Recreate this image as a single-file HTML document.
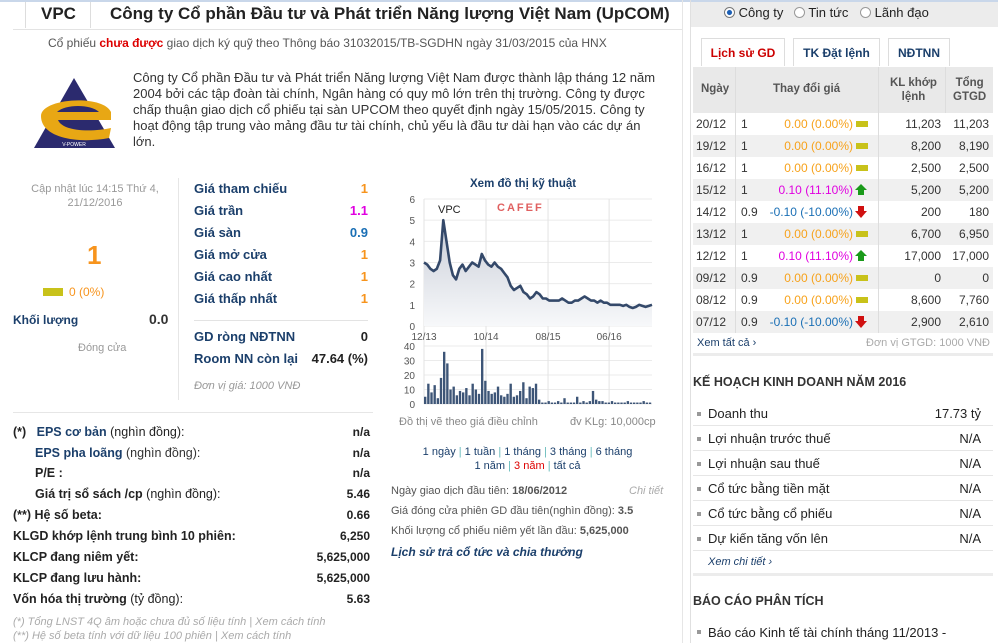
<!DOCTYPE html>
<html><head><meta charset="utf-8">
<style>
*{margin:0;padding:0;box-sizing:border-box}
body{width:998px;height:643px;overflow:hidden;background:#fff;font-family:"Liberation Sans","Noto Sans CJK SC",sans-serif;font-size:12px;color:#333;position:relative}
.a{position:absolute;white-space:nowrap}
.lbl{font-weight:bold;color:#1b3f6b;font-size:13px}
.val{font-weight:bold;font-size:13px;text-align:right}
.b{font-weight:bold;color:#222}
.rrow{position:absolute;left:693px;width:300px;height:22px;line-height:22px;font-size:12px}
.rrow span{position:absolute}
.kh{position:absolute;left:693px;width:300px;height:25px;line-height:25px;border-bottom:1px solid #e6e6e6;font-size:13px;color:#222}
.kh i{position:absolute;left:4px;top:11px;width:4px;height:4px;background:#999}
.kh .n{position:absolute;left:15px}.kh .v{position:absolute;right:12px}
</style></head><body>
<div class="a" style="left:0;top:0;width:690px;height:2px;background:#c9d7ea"></div>
<div class="a" style="left:25px;top:2px;width:1px;height:26px;background:#ddd"></div>
<div class="a" style="left:90px;top:2px;width:1px;height:26px;background:#ddd"></div>
<div class="a" style="left:41px;top:4px;font-size:17px;font-weight:bold;color:#222">VPC</div>
<div class="a" style="left:110px;top:4px;font-size:17px;font-weight:bold;color:#222">Công ty Cổ phần Đầu tư và Phát triển Năng lượng Việt Nam (UpCOM)</div>
<div class="a" style="left:13px;top:29px;width:670px;height:1px;background:#e3e3e3"></div>
<div class="a" style="left:48px;top:36px;color:#555">Cổ phiếu <b style="color:#d00">chưa được</b> giao dịch ký quỹ theo Thông báo 31032015/TB-SGDHN ngày 31/03/2015 của HNX</div>
<svg class="a" style="left:33px;top:76px" width="85" height="76" viewBox="0 0 85 76">
<polygon points="41,2 82,72 1,72" fill="#2b2a6e"/>
<path d="M8,40 C8,22 70,18 78,36 L78,44 L25,44 C30,56 60,56 78,52 L76,62 C45,68 8,62 8,40Z" fill="#e8a714"/>
<path d="M24,36 C32,28 58,28 66,36Z" fill="#2b2a6e"/>
<text x="41" y="70" font-size="5" fill="#fff" text-anchor="middle" font-family="Liberation Sans">V-POWER</text></svg>
<div class="a" style="left:133px;top:70px;line-height:16px;font-size:13px;color:#333">Công ty Cổ phần Đầu tư và Phát triển Năng lượng Việt Nam được thành lập tháng 12 năm<br>2004 bởi các tập đoàn tài chính, Ngân hàng có quy mô lớn trên thị trường. Công ty được<br>chấp thuận giao dịch cổ phiếu tại sàn UPCOM theo quyết định ngày 15/05/2015. Công ty<br>hoạt động tập trung vào mảng đầu tư tài chính, chủ yếu là đầu tư dài hạn vào các dự án<br>lớn.</div>

<div class="a" style="left:20px;top:182px;width:150px;text-align:center;white-space:normal;color:#999;font-size:11px;line-height:14px">Cập nhật lúc 14:15 Thứ 4, 21/12/2016</div>
<div class="a" style="left:87px;top:240px;font-size:26px;font-weight:bold;color:#f7941d">1</div>
<div class="a" style="left:43px;top:288px;width:20px;height:8px;background:#c8c21a"></div>
<div class="a" style="left:69px;top:285px;color:#f7941d">0 (0%)</div>
<div class="a" style="left:13px;top:313px;font-weight:bold;color:#1b3f6b">Khối lượng</div>
<div class="a" style="left:149px;top:311px;font-weight:bold;font-size:14px">0.0</div>
<div class="a" style="left:78px;top:342px;color:#999;font-size:11px">Đóng cửa</div>
<div class="a" style="left:178px;top:178px;width:1px;height:222px;background:#e6e6e6"></div>

<div class="a lbl" style="left:194px;top:181px">Giá tham chiếu</div>
<div class="a val" style="left:330px;width:38px;top:181px;color:#f7941d">1</div>
<div class="a lbl" style="left:194px;top:203px">Giá trần</div>
<div class="a val" style="left:330px;width:38px;top:203px;color:#e000e0">1.1</div>
<div class="a lbl" style="left:194px;top:225px">Giá sàn</div>
<div class="a val" style="left:330px;width:38px;top:225px;color:#1a6fb5">0.9</div>
<div class="a lbl" style="left:194px;top:247px">Giá mở cửa</div>
<div class="a val" style="left:330px;width:38px;top:247px;color:#f7941d">1</div>
<div class="a lbl" style="left:194px;top:269px">Giá cao nhất</div>
<div class="a val" style="left:330px;width:38px;top:269px;color:#f7941d">1</div>
<div class="a lbl" style="left:194px;top:291px">Giá thấp nhất</div>
<div class="a val" style="left:330px;width:38px;top:291px;color:#f7941d">1</div>
<div class="a" style="left:194px;top:320px;width:174px;height:1px;background:#e3e3e3"></div>
<div class="a lbl" style="left:194px;top:329px">GD ròng NĐTNN</div>
<div class="a val" style="left:330px;width:38px;top:329px;color:#222">0</div>
<div class="a lbl" style="left:194px;top:351px">Room NN còn lại</div>
<div class="a val" style="left:300px;width:68px;top:351px;color:#222">47.64 (%)</div>
<div class="a" style="left:194px;top:380px;color:#999;font-style:italic;font-size:11px">Đơn vị giá: 1000 VNĐ</div>
<div class="a" style="left:13px;top:412px;width:360px;height:1px;background:#e6e6e6"></div>

<div>
<div class="a b" style="left:13px;top:425px;font-size:12.5px">(*) &nbsp;&nbsp;<span style="color:#1b3f6b">EPS cơ bản</span> <span style="font-weight:normal">(nghìn đồng):</span></div>
<div class="a b" style="left:330px;width:40px;text-align:right;top:425px">n/a</div>
<div class="a b" style="left:35px;top:446px;color:#1b3f6b;font-size:12.5px">EPS pha loãng <span style="font-weight:normal;color:#333">(nghìn đồng):</span></div>
<div class="a b" style="left:330px;width:40px;text-align:right;top:446px">n/a</div>
<div class="a b" style="left:35px;top:466px;font-size:12.5px">P/E :</div>
<div class="a b" style="left:330px;width:40px;text-align:right;top:466px">n/a</div>
<div class="a b" style="left:35px;top:487px;font-size:12.5px">Giá trị sổ sách /cp <span style="font-weight:normal">(nghìn đồng):</span></div>
<div class="a b" style="left:310px;width:60px;text-align:right;top:487px">5.46</div>
<div class="a b" style="left:13px;top:508px;font-size:12.5px">(**) Hệ số beta:</div>
<div class="a b" style="left:310px;width:60px;text-align:right;top:508px">0.66</div>
<div class="a b" style="left:13px;top:529px;font-size:12.5px">KLGD khớp lệnh trung bình 10 phiên:</div>
<div class="a b" style="left:290px;width:80px;text-align:right;top:529px">6,250</div>
<div class="a b" style="left:13px;top:550px;font-size:12.5px">KLCP đang niêm yết:</div>
<div class="a b" style="left:270px;width:100px;text-align:right;top:550px">5,625,000</div>
<div class="a b" style="left:13px;top:571px;font-size:12.5px">KLCP đang lưu hành:</div>
<div class="a b" style="left:270px;width:100px;text-align:right;top:571px">5,625,000</div>
<div class="a b" style="left:13px;top:592px;font-size:12.5px">Vốn hóa thị trường <span style="font-weight:normal">(tỷ đồng):</span></div>
<div class="a b" style="left:310px;width:60px;text-align:right;top:592px">5.63</div>
<div class="a" style="left:13px;top:616px;color:#aaa;font-style:italic;font-size:11px">(*) Tổng LNST 4Q âm hoặc chưa đủ số liệu tính | Xem cách tính</div>
<div class="a" style="left:13px;top:630px;color:#aaa;font-style:italic;font-size:11px">(**) Hệ số beta tính với dữ liệu 100 phiên | Xem cách tính</div>
</div>

<!-- chart -->
<div class="a" style="left:470px;top:178px;font-weight:bold;font-size:11.5px;color:#1b3f6b">Xem đồ thị kỹ thuật</div>
<svg class="a" id="chart" style="left:385px;top:175px" width="300" height="240" viewBox="0 0 300 240"></svg>
<div class="a" style="left:399px;top:416px;color:#888;font-size:11px">Đồ thị vẽ theo giá điều chỉnh</div>
<div class="a" style="left:570px;top:416px;color:#888;font-size:11px">đv KLg: 10,000cp</div>
<div class="a" style="left:385px;top:445px;width:285px;text-align:center;font-size:11px;line-height:14px;color:#1b3f6b;white-space:normal">1 ngày <span style="color:#6bb">|</span> 1 tuần <span style="color:#6bb">|</span> 1 tháng <span style="color:#6bb">|</span> 3 tháng <span style="color:#6bb">|</span> 6 tháng<br>1 năm <span style="color:#6bb">|</span> <span style="color:#d00">3 năm</span> <span style="color:#6bb">|</span> tất cả</div>
<div class="a" style="left:391px;top:485px;font-size:11px;color:#555">Ngày giao dịch đầu tiên: <b>18/06/2012</b></div>
<div class="a" style="left:629px;top:485px;font-size:11px;color:#aaa;font-style:italic">Chi tiết</div>
<div class="a" style="left:391px;top:505px;font-size:11px;color:#555">Giá đóng cửa phiên GD đầu tiên(nghìn đồng): <b>3.5</b></div>
<div class="a" style="left:391px;top:525px;font-size:11px;color:#555">Khối lượng cổ phiếu niêm yết lần đầu: <b>5,625,000</b></div>
<div class="a" style="left:391px;top:545px;font-size:12px;color:#1b3f6b;font-weight:bold;font-style:italic">Lịch sử trả cổ tức và chia thưởng</div>
<div class="a" style="left:682px;top:0;width:1px;height:643px;background:#e6e6e6"></div>

<!-- right column -->
<div class="a" style="left:690px;top:0;width:1px;height:643px;background:#e0e0e0"></div>
<div class="a" style="left:691px;top:0;width:307px;height:27px;background:#ececec;border-top:2px solid #c9d7ea"></div>
<div class="a" style="left:724px;top:5px;font-size:13px;color:#222"><span style="display:inline-block;width:11px;height:11px;border-radius:50%;border:1px solid #777;background:radial-gradient(#1c5fb5 35%,#fff 45%);vertical-align:-1px"></span> Công ty</div>
<div class="a" style="left:794px;top:5px;font-size:13px;color:#222"><span style="display:inline-block;width:11px;height:11px;border-radius:50%;border:1px solid #999;background:#fff;vertical-align:-1px"></span> Tin tức</div>
<div class="a" style="left:860px;top:5px;font-size:13px;color:#222"><span style="display:inline-block;width:11px;height:11px;border-radius:50%;border:1px solid #999;background:#fff;vertical-align:-1px"></span> Lãnh đạo</div>
<div class="a" style="left:701px;top:38px;width:84px;height:28px;border:1px solid #ddd;border-bottom:none;text-align:center;line-height:28px;color:#c00;font-weight:bold;font-size:12px">Lịch sử GD</div>
<div class="a" style="left:793px;top:38px;width:87px;height:28px;border:1px solid #ddd;border-bottom:none;text-align:center;line-height:28px;color:#1b3f6b;font-weight:bold;font-size:12px">TK Đặt lệnh</div>
<div class="a" style="left:888px;top:38px;width:62px;height:28px;border:1px solid #ddd;border-bottom:none;text-align:center;line-height:28px;color:#1b3f6b;font-weight:bold;font-size:12px">NĐTNN</div>
<div class="a" style="left:693px;top:67px;width:300px;height:46px;background:#e9e9e9;color:#555;font-weight:bold;font-size:11.5px">
<span class="a" style="left:8px;top:16px">Ngày</span><span class="a" style="left:80px;top:16px">Thay đổi giá</span><span class="a" style="left:197px;top:9px;text-align:center;line-height:14px">KL khớp<br>lệnh</span><span class="a" style="left:260px;top:9px;text-align:center;line-height:14px">Tổng<br>GTGD</span></div>
<div class="a" style="left:735px;top:67px;width:1px;height:266px;background:#ddd;z-index:2"></div>
<div class="a" style="left:878px;top:67px;width:1px;height:266px;background:#ddd;z-index:2"></div>
<div class="a" style="left:945px;top:67px;width:1px;height:46px;background:#ddd;z-index:2"></div>
<div id="hist"></div>
<div class="a" style="left:697px;top:337px;font-size:11px;color:#1b3f6b">Xem tất cả ›</div>
<div class="a" style="left:866px;top:337px;font-size:11px;color:#aaa">Đơn vị GTGD: 1000 VNĐ</div>
<div class="a" style="left:693px;top:353px;width:300px;height:3px;background:#ececec"></div>
<div class="a" style="left:693px;top:375px;font-weight:bold;font-size:12.5px;color:#333">KẾ HOẠCH KINH DOANH NĂM 2016</div>
<div class="kh" style="top:401px"><i></i><span class="n">Doanh thu</span><span class="v">17.73 tỷ</span></div>
<div class="kh" style="top:426px"><i></i><span class="n">Lợi nhuận trước thuế</span><span class="v">N/A</span></div>
<div class="kh" style="top:451px"><i></i><span class="n">Lợi nhuận sau thuế</span><span class="v">N/A</span></div>
<div class="kh" style="top:476px"><i></i><span class="n">Cổ tức bằng tiền mặt</span><span class="v">N/A</span></div>
<div class="kh" style="top:501px"><i></i><span class="n">Cổ tức bằng cổ phiếu</span><span class="v">N/A</span></div>
<div class="kh" style="top:526px"><i></i><span class="n">Dự kiến tăng vốn lên</span><span class="v">N/A</span></div>
<div class="a" style="left:708px;top:556px;font-size:11px;color:#1b3f6b;font-style:italic">Xem chi tiết ›</div>
<div class="a" style="left:693px;top:573px;width:300px;height:3px;background:#ececec"></div>
<div class="a" style="left:693px;top:594px;font-weight:bold;font-size:12.5px;color:#333">BÁO CÁO PHÂN TÍCH</div>
<div class="a" style="left:697px;top:625px;font-size:13px;color:#222"><span style="display:inline-block;width:4px;height:4px;background:#999;vertical-align:3px;margin-right:7px"></span>Báo cáo Kinh tế tài chính tháng 11/2013 -</div>

<script>
// ---- price chart data ----
const priceValues=[3.0,2.9,2.7,2.6,2.7,3.1,5.0,4.0,3.0,2.4,2.2,2.7,2.9,2.6,2.8,3.0,2.9,2.8,3.4,3.1,2.9,2.8,3.0,2.8,2.7,2.5,2.3,1.9,1.7,1.8,1.9,1.6,1.5,1.3,1.4,1.6,1.5,1.3,1.3,1.2,1.2,1.2,1.2,1.3,1.2,1.1,1.1,1.2,1.2,1.3,1.4,1.3,1.2,1.2,1.1,1.2,1.1,1.1,1.0,1.0,1.0,1.0,0.95,1.0,0.9,0.85,0.9,1.0,0.95,0.9,0.95,1.0];
const volumeValues=[5,14,8,13,4,18,36,28,10,12,6,9,8,11,6,14,10,7,38,16,9,7,8,12,6,5,7,14,5,6,9,15,4,12,11,14,3,1,1,2,1,1,2,1,4,1,1,1,5,1,2,1,2,9,3,2,2,1,1,2,1,1,1,1,2,1,1,1,1,2,1,1];
const priceTicks=[0,1,2,3,4,5,6];
const volumeTicks=[0,10,20,30,40];
const xTickLabels=["12/13","10/14","08/15","06/16"];
const xTickFracs=[0,0.272,0.544,0.812];

const NS="http://www.w3.org/2000/svg";
const svg=document.getElementById('chart');
const X0=39,X1=267,PY0=151,PY1=24,VY0=229,VY1=171;
const xs=i=>X0+(X1-X0)*i/(priceValues.length-1);
const py=v=>PY0+(PY1-PY0)*v/6;
const vy=v=>VY0+(VY1-VY0)*v/40;
function mk(t,a){const e=document.createElementNS(NS,t);for(const k in a)e.setAttribute(k,a[k]);svg.appendChild(e);return e;}
const defs=mk('defs',{});
defs.innerHTML='<linearGradient id="g" x1="0" y1="0" x2="0" y2="1"><stop offset="0" stop-color="#c9ced8"/><stop offset="1" stop-color="#f7f8fa"/></linearGradient>';
priceTicks.forEach(t=>{
 let l=mk('line',{x1:X0,x2:X1,y1:py(t),y2:py(t),stroke:'#ebebeb'});
 
 
 let tx=mk('text',{x:X0-9,y:py(t)+4,'text-anchor':'end','font-size':10,fill:'#555','font-family':'Liberation Sans'});tx.textContent=t;
 
 
});
volumeTicks.forEach(t=>{
 let l=mk('line',{x1:X0,x2:X1,y1:vy(t),y2:vy(t),stroke:'#ebebeb'});
 
 
 let tx=mk('text',{x:X0-9,y:vy(t)+4,'text-anchor':'end','font-size':10,fill:'#555','font-family':'Liberation Sans'});tx.textContent=t;
 
 
});
xTickLabels.forEach((s,i)=>{
 const x=X0+(X1-X0)*xTickFracs[i];
 let l=mk('line',{x1:x,x2:x,y1:PY1,y2:VY0,stroke:'#e3e3e3'});
 
 
 let tx=mk('text',{x:x,y:PY0+14,'text-anchor':'middle','font-size':10,fill:'#555','font-family':'Liberation Sans'});tx.textContent=s;
 
 
});
let wm=mk('text',{x:112,y:36,'font-size':11,'font-weight':'bold',fill:'#e06060','font-family':'Liberation Sans','letter-spacing':'2'});wm.textContent='CAFEF';


let nm=mk('text',{x:53,y:38,'font-size':11,fill:'#222','font-family':'Liberation Sans'});nm.textContent='VPC';


let pts=priceValues.map((v,i)=>xs(i).toFixed(1)+','+py(v).toFixed(1));
let area=mk('polygon',{points:X0+','+PY0+' '+pts.join(' ')+' '+X1+','+PY0,fill:'url(#g)'});


let line=mk('polyline',{points:pts.join(' '),fill:'none',stroke:'#34496a','stroke-width':2.6,'stroke-linejoin':'round'});


const bw=(X1-X0)/volumeValues.length;
volumeValues.forEach((v,i)=>{
 let b=mk('rect',{x:X0+i*bw,y:vy(v),width:Math.max(bw-0.8,1),height:VY0-vy(v),fill:'#3d5577'});
 
 
});

// ---- history table ----
const hist=[["20/12","1","0.00 (0.00%)","z","11,203","11,203"],["19/12","1","0.00 (0.00%)","z","8,200","8,190"],["16/12","1","0.00 (0.00%)","z","2,500","2,500"],["15/12","1","0.10 (11.10%)","u","5,200","5,200"],["14/12","0.9","-0.10 (-10.00%)","d","200","180"],["13/12","1","0.00 (0.00%)","z","6,700","6,950"],["12/12","1","0.10 (11.10%)","u","17,000","17,000"],["09/12","0.9","0.00 (0.00%)","z","0","0"],["08/12","0.9","0.00 (0.00%)","z","8,600","7,760"],["07/12","0.9","-0.10 (-10.00%)","d","2,900","2,610"]];
const H=document.getElementById('hist');
hist.forEach((r,i)=>{
 const d=document.createElement('div');
 d.className='rrow';
 
 
 d.style.top=(113+i*22)+'px';
 d.style.background=i%2?'#f0f0f0':'#fff';
 const col=r[3]=='z'?'#f7a21b':r[3]=='u'?'#e000e0':'#1a6fb5';
 const ic=r[3]=='z'?'<span style="right:125px;top:8px;width:12px;height:6px;background:#c8c21a"></span>':
  r[3]=='u'?'<span style="right:126px;top:5px;width:0;height:0;border-left:6px solid transparent;border-right:6px solid transparent;border-bottom:6px solid #1a9a1a"></span><span style="right:129px;top:11px;width:6px;height:5px;background:#1a9a1a"></span>':
  '<span style="right:129px;top:5px;width:6px;height:5px;background:#d01010"></span><span style="right:126px;top:10px;width:0;height:0;border-left:6px solid transparent;border-right:6px solid transparent;border-top:7px solid #d01010"></span>';
 d.innerHTML='<span style="left:3px">'+r[0]+'</span><span style="left:48px">'+r[1]+'</span><span style="right:140px;color:'+col+'">'+r[2]+'</span>'+ic+'<span style="right:52px">'+r[4]+'</span><span style="right:4px">'+r[5]+'</span>';
 H.appendChild(d);
});
</script>
</body></html>
